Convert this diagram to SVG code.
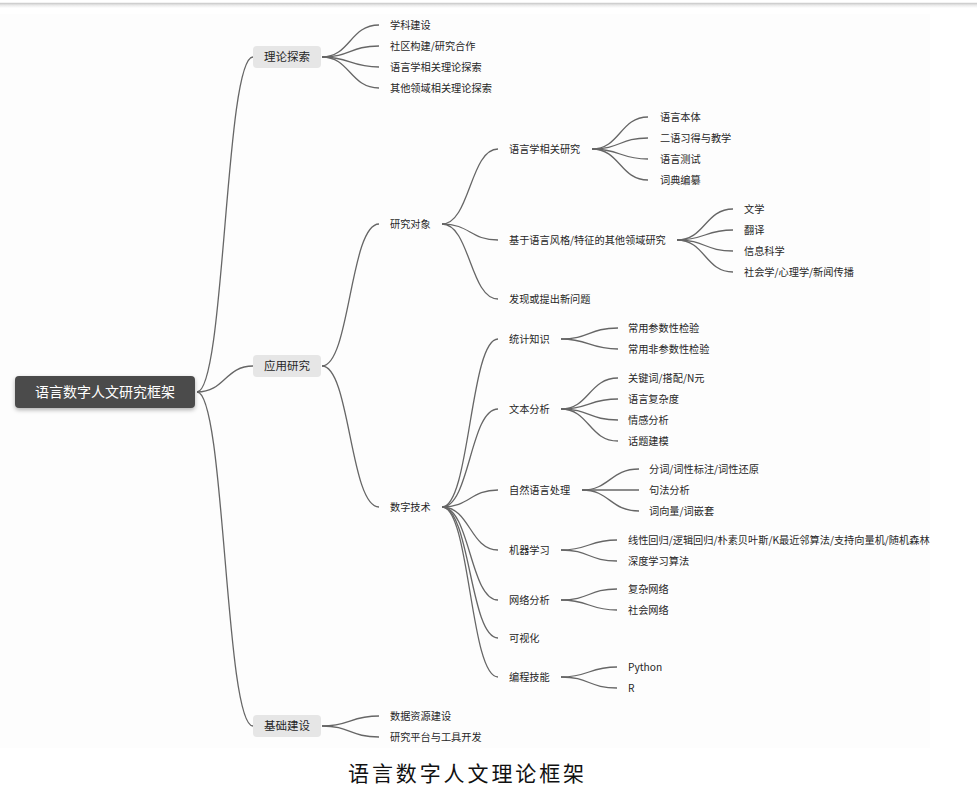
<svg xmlns="http://www.w3.org/2000/svg" width="977" height="799" viewBox="0 0 977 799">
<defs>
<filter id="sh" x="-10%" y="-30%" width="120%" height="180%">
<feDropShadow dx="0" dy="2" stdDeviation="2" flood-color="#000" flood-opacity="0.3"/>
</filter>
<linearGradient id="topg" x1="0" y1="0" x2="0" y2="1">
<stop offset="0" stop-color="#e0e0e0"/>
<stop offset="1" stop-color="#ffffff"/>
</linearGradient>
</defs>
<style>
text{font-family:"Noto Sans CJK SC","Liberation Sans",sans-serif;fill:#262626}
.t{font-size:10.2px}
.l1{font-size:11.5px;text-anchor:middle}
.root{font-size:14px;fill:#fff;text-anchor:middle}
.b1{fill:#e6e6e6}
.cap{font-family:"Liberation Serif","Noto Sans CJK SC",serif;font-size:21px;fill:#111;letter-spacing:2.9px}
#connectors path{fill:none;stroke:#666;stroke-width:1.3}
</style>
<rect x="0" y="0" width="977" height="799" fill="#fff"/>
<rect x="0" y="14" width="930" height="734" fill="#fdfdfd"/>
<rect x="0" y="4" width="977" height="4" fill="url(#topg)"/>
<line x1="0" y1="3.5" x2="977" y2="3.5" stroke="#cfcfcf" stroke-width="1.5"/>
<g id="connectors">
<path d="M197,392 C225,392 225,57 253,57"/>
<path d="M197,392 C225,392 225,366 253,366"/>
<path d="M197,392 C225,392 225,726 253,726"/>
<path d="M322,57 C350,57 350,25 379,25"/>
<path d="M322,57 C350,57 350,46 379,46"/>
<path d="M322,57 C350,57 350,67 379,67"/>
<path d="M322,57 C350,57 350,88 379,88"/>
<path d="M322,366 C350,366 350,224 379,224"/>
<path d="M322,366 C350,366 350,507 379,507"/>
<path d="M322,726 C350,726 350,716 379,716"/>
<path d="M322,726 C350,726 350,737 379,737"/>
<path d="M442,224 C470,224 470,149 498,149"/>
<path d="M442,224 C470,224 470,240 498,240"/>
<path d="M442,224 C470,224 470,299 498,299"/>
<path d="M592,149 C620,149 620,117 648,117"/>
<path d="M592,149 C620,149 620,138 648,138"/>
<path d="M592,149 C620,149 620,159 648,159"/>
<path d="M592,149 C620,149 620,180 648,180"/>
<path d="M677,240 C705,240 705,209 733,209"/>
<path d="M677,240 C705,240 705,230 733,230"/>
<path d="M677,240 C705,240 705,251 733,251"/>
<path d="M677,240 C705,240 705,272 733,272"/>
<path d="M442,507 C470,507 470,339 498,339"/>
<path d="M442,507 C470,507 470,409 498,409"/>
<path d="M442,507 C470,507 470,490 498,490"/>
<path d="M442,507 C470,507 470,550 498,550"/>
<path d="M442,507 C470,507 470,600 498,600"/>
<path d="M442,507 C470,507 470,638 498,638"/>
<path d="M442,507 C470,507 470,677 498,677"/>
<path d="M561,339 C589,339 589,328 618,328"/>
<path d="M561,339 C589,339 589,349 618,349"/>
<path d="M561,409 C589,409 589,378 618,378"/>
<path d="M561,409 C589,409 589,399 618,399"/>
<path d="M561,409 C589,409 589,420 618,420"/>
<path d="M561,409 C589,409 589,441 618,441"/>
<path d="M582,490 C610,490 610,469 639,469"/>
<path d="M582,490 C610,490 610,490 639,490"/>
<path d="M582,490 C610,490 610,511 639,511"/>
<path d="M561,550 C589,550 589,540 617,540"/>
<path d="M561,550 C589,550 589,561 617,561"/>
<path d="M561,600 C589,600 589,589 617,589"/>
<path d="M561,600 C589,600 589,610 617,610"/>
<path d="M561,677 C589,677 589,667 617,667"/>
<path d="M561,677 C589,677 589,688 617,688"/>
</g>
<g id="root"><rect x="15" y="376" width="180" height="32" rx="4" fill="#4b4b4b" filter="url(#sh)"/><text class="root" x="105" y="397.3">语言数字人文研究框架</text></g>
<g id="n-llts"><rect class="b1" x="253" y="46" width="68" height="22" rx="4"/><text class="l1" x="287" y="61.4">理论探索</text></g>
<g id="n-yyyj"><rect class="b1" x="253" y="355" width="68" height="22" rx="4"/><text class="l1" x="287" y="370.4">应用研究</text></g>
<g id="n-jcjs"><rect class="b1" x="253" y="715" width="68" height="22" rx="4"/><text class="l1" x="287" y="730.4">基础建设</text></g>
<g id="n-xkjs"><text class="t" x="390" y="29">学科建设</text></g>
<g id="n-sqgj"><text class="t" x="390" y="50">社区构建/研究合作</text></g>
<g id="n-yyxll"><text class="t" x="390" y="71">语言学相关理论探索</text></g>
<g id="n-qtly"><text class="t" x="390" y="92">其他领域相关理论探索</text></g>
<g id="n-yjdx"><text class="t" x="390" y="228">研究对象</text></g>
<g id="n-yyxyj"><text class="t" x="509" y="153">语言学相关研究</text></g>
<g id="n-yybt"><text class="t" x="660" y="121">语言本体</text></g>
<g id="n-ey"><text class="t" x="660" y="142">二语习得与教学</text></g>
<g id="n-yycs"><text class="t" x="660" y="163">语言测试</text></g>
<g id="n-cdbz"><text class="t" x="660" y="184">词典编纂</text></g>
<g id="n-jyyy"><text class="t" x="509" y="244">基于语言风格/特征的其他领域研究</text></g>
<g id="n-wx"><text class="t" x="744" y="213">文学</text></g>
<g id="n-fy"><text class="t" x="744" y="234">翻译</text></g>
<g id="n-xxkx"><text class="t" x="744" y="255">信息科学</text></g>
<g id="n-shx"><text class="t" x="744" y="276">社会学/心理学/新闻传播</text></g>
<g id="n-fx"><text class="t" x="509" y="303">发现或提出新问题</text></g>
<g id="n-szjs"><text class="t" x="390" y="511">数字技术</text></g>
<g id="n-tjzs"><text class="t" x="509" y="343">统计知识</text></g>
<g id="n-cs1"><text class="t" x="628" y="332">常用参数性检验</text></g>
<g id="n-cs2"><text class="t" x="628" y="353">常用非参数性检验</text></g>
<g id="n-wbfx"><text class="t" x="509" y="413">文本分析</text></g>
<g id="n-gjc"><text class="t" x="628" y="382">关键词/搭配/N元</text></g>
<g id="n-fzd"><text class="t" x="628" y="403">语言复杂度</text></g>
<g id="n-qgfx"><text class="t" x="628" y="424">情感分析</text></g>
<g id="n-htjm"><text class="t" x="628" y="445">话题建模</text></g>
<g id="n-zryy"><text class="t" x="509" y="494">自然语言处理</text></g>
<g id="n-fc"><text class="t" x="649" y="473">分词/词性标注/词性还原</text></g>
<g id="n-jffx"><text class="t" x="649" y="494">句法分析</text></g>
<g id="n-cxl"><text class="t" x="649" y="515">词向量/词嵌套</text></g>
<g id="n-jqxx"><text class="t" x="509" y="554">机器学习</text></g>
<g id="n-xxhg"><text class="t" x="628" y="544">线性回归/逻辑回归/朴素贝叶斯/K最近邻算法/支持向量机/随机森林</text></g>
<g id="n-sdxx"><text class="t" x="628" y="565">深度学习算法</text></g>
<g id="n-wlfx"><text class="t" x="509" y="604">网络分析</text></g>
<g id="n-fzwl"><text class="t" x="628" y="593">复杂网络</text></g>
<g id="n-shwl"><text class="t" x="628" y="614">社会网络</text></g>
<g id="n-ksh"><text class="t" x="509" y="642">可视化</text></g>
<g id="n-bcjn"><text class="t" x="509" y="681">编程技能</text></g>
<g id="n-py"><text class="t" x="628" y="671">Python</text></g>
<g id="n-r"><text class="t" x="628" y="692">R</text></g>
<g id="n-sjzy"><text class="t" x="390" y="720">数据资源建设</text></g>
<g id="n-yjpt"><text class="t" x="390" y="741">研究平台与工具开发</text></g>
<text class="cap" x="348" y="781">语言数字人文理论框架</text>
</svg>
